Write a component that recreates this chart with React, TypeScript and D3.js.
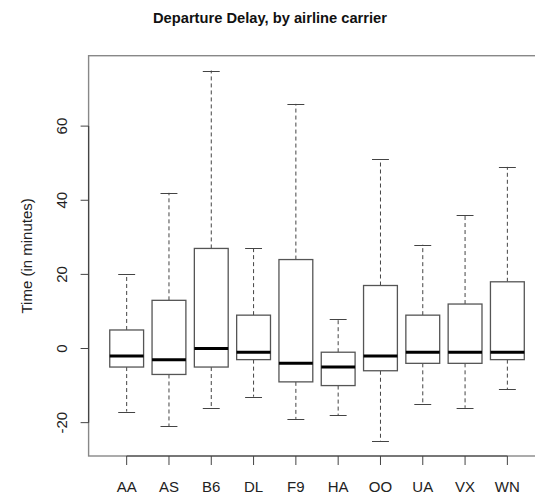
import React, { useEffect, useRef } from "react";
import * as d3 from "d3";

const carriers = ["AA", "AS", "B6", "DL", "F9", "HA", "OO", "UA", "VX", "WN"];
const lowerWhisker = [-17, -21, -16, -13, -19, -18, -25, -15, -16, -11];
const q1 = [-5, -7, -5, -3, -9, -10, -6, -4, -4, -3];
const median = [-2, -3, 0, -1, -4, -5, -2, -1, -1, -1];
const q3 = [5, 13, 27, 9, 24, -1, 17, 9, 12, 18];
const upperWhisker = [20, 42, 75, 27, 66, 8, 51, 28, 36, 49];
const yTicks = [-20, 0, 20, 40, 60];

const App = () => {
  const svgRef = useRef<SVGSVGElement>(null);

  useEffect(() => {
    const svg = d3.select(svgRef.current);
    svg.selectAll("*").remove();

    const left = 88.6;
    const step = 42.3;
    const top = 55.7;
    const bottom = 456;
    const font = "'Liberation Sans', Arial, sans-serif";
    const labelSize = 15;

    const x = d3.scaleLinear().domain([0.1, 10.9]).range([left, left + 10.8 * step]);
    const y = d3.scaleLinear().domain([-29, 79]).range([bottom, top]);

    const data = carriers.map((c, i) => ({
      c,
      pos: i + 1,
      lo: lowerWhisker[i],
      q1: q1[i],
      med: median[i],
      q3: q3[i],
      hi: upperWhisker[i],
    }));

    const boxW = x(1.4) - x(1);
    const capW = boxW / 2;

    const g = svg.append("g");

    const box = g
      .selectAll("g.box")
      .data(data)
      .join("g")
      .attr("class", "box");

    // whiskers (dashed)
    [
      (d) => [d.q3, d.hi],
      (d) => [d.q1, d.lo],
    ].forEach((ends) => {
      box
        .append("line")
        .attr("x1", (d) => x(d.pos))
        .attr("x2", (d) => x(d.pos))
        .attr("y1", (d) => y(ends(d)[0]))
        .attr("y2", (d) => y(ends(d)[1]))
        .attr("stroke", "#444")
        .attr("stroke-width", 1)
        .attr("stroke-dasharray", "4 3");
    });

    // staples
    [(d) => d.hi, (d) => d.lo].forEach((v) => {
      box
        .append("line")
        .attr("x1", (d) => x(d.pos) - capW)
        .attr("x2", (d) => x(d.pos) + capW)
        .attr("y1", (d) => Math.round(y(v(d))) + 0.5)
        .attr("y2", (d) => Math.round(y(v(d))) + 0.5)
        .attr("stroke", "#444")
        .attr("stroke-width", 1);
    });

    // boxes
    box
      .append("rect")
      .attr("x", (d) => x(d.pos) - boxW)
      .attr("width", boxW * 2)
      .attr("y", (d) => y(d.q3))
      .attr("height", (d) => y(d.q1) - y(d.q3))
      .attr("fill", "white")
      .attr("stroke", "#555")
      .attr("stroke-width", 1.3);

    // medians
    box
      .append("line")
      .attr("x1", (d) => x(d.pos) - boxW)
      .attr("x2", (d) => x(d.pos) + boxW)
      .attr("y1", (d) => y(d.med))
      .attr("y2", (d) => y(d.med))
      .attr("stroke", "#000")
      .attr("stroke-width", 3);

    // frame
    g.append("rect")
      .attr("x", left)
      .attr("y", top)
      .attr("width", 10.8 * step)
      .attr("height", bottom - top)
      .attr("fill", "none")
      .attr("stroke", "#888")
      .attr("stroke-width", 1.4);

    // y axis
    const yAxis = g.append("g");
    yAxis
      .append("line")
      .attr("x1", left)
      .attr("x2", left)
      .attr("y1", y(-20))
      .attr("y2", y(60))
      .attr("stroke", "#444")
      .attr("stroke-width", 1.2);
    yAxis
      .selectAll("line.tick")
      .data(yTicks)
      .join("line")
      .attr("class", "tick")
      .attr("x1", left - 8)
      .attr("x2", left)
      .attr("y1", (d) => y(d))
      .attr("y2", (d) => y(d))
      .attr("stroke", "#444")
      .attr("stroke-width", 1);
    yAxis
      .selectAll("text")
      .data(yTicks)
      .join("text")
      .attr("transform", (d) => `translate(67,${y(d)}) rotate(-90)`)
      .attr("text-anchor", "middle")
      .attr("font-family", font)
      .attr("font-size", labelSize)
      .attr("fill", "#222")
      .text((d) => d);

    // x axis
    const xAxis = g.append("g");
    xAxis
      .append("line")
      .attr("x1", x(1))
      .attr("x2", x(10))
      .attr("y1", bottom)
      .attr("y2", bottom)
      .attr("stroke", "#444")
      .attr("stroke-width", 1.2);
    xAxis
      .selectAll("line.tick")
      .data(data)
      .join("line")
      .attr("class", "tick")
      .attr("x1", (d) => x(d.pos))
      .attr("x2", (d) => x(d.pos))
      .attr("y1", bottom)
      .attr("y2", bottom + 9)
      .attr("stroke", "#444")
      .attr("stroke-width", 1);
    xAxis
      .selectAll("text")
      .data(data)
      .join("text")
      .attr("x", (d) => x(d.pos))
      .attr("y", 492)
      .attr("text-anchor", "middle")
      .attr("font-family", font)
      .attr("font-size", labelSize)
      .attr("fill", "#222")
      .text((d) => d.c);

    // labels
    svg
      .append("text")
      .attr("transform", `translate(32,${(top + bottom) / 2}) rotate(-90)`)
      .attr("text-anchor", "middle")
      .attr("font-family", font)
      .attr("font-size", labelSize)
      .attr("fill", "#222")
      .text("Time (in minutes)");

    svg
      .append("text")
      .attr("x", 270)
      .attr("y", 23)
      .attr("text-anchor", "middle")
      .attr("font-family", font)
      .attr("font-size", 14.7)
      .attr("font-weight", "bold")
      .attr("fill", "#111")
      .text("Departure Delay, by airline carrier");
  }, []);

  return (
    <svg
      ref={svgRef}
      width={535}
      height={495}
      style={{ position: "absolute", left: 0, top: 0, background: "white" }}
    />
  );
};

export default App;
